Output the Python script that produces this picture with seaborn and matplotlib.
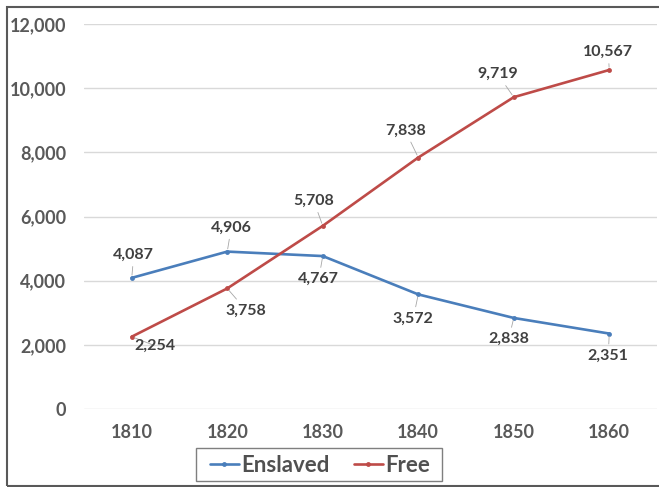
import matplotlib
matplotlib.use("Agg")
import matplotlib.pyplot as plt
from matplotlib.lines import Line2D
import seaborn as sns
import pandas as pd

# Population by decade
years = ["1810", "1820", "1830", "1840", "1850", "1860"]
enslaved = [4087, 4906, 4767, 3572, 2838, 2351]
free = [2254, 3758, 5708, 7838, 9719, 10567]
series_names = ["Enslaved", "Free"]
colors = {"Enslaved": "#4A7EBB", "Free": "#BE4B48"}

# Label offsets in pixels (dx, dy) relative to each point
enslaved_offsets = [(2, 23), (4, 24), (-4, -23), (-5, -24), (-5, -21), (-1, -22)]
free_offsets = [(23, -9), (19, -22), (-9, 25), (-13, 27), (-16, 23), (-1, 18)]

df = pd.DataFrame({
    "Year": years * 2,
    "Population": enslaved + free,
    "Group": [series_names[0]] * len(years) + [series_names[1]] * len(years),
})

sns.set_theme(style="white")
plt.rcParams["font.family"] = ["Lato", "DejaVu Sans"]

W, H = 659, 487
fig = plt.figure(figsize=(W / 100, H / 100), dpi=100)
ax = fig.add_axes([84 / W, 1 - 409 / H, (657 - 84) / W, (409 - 24) / H])

sns.lineplot(data=df, x="Year", y="Population", hue="Group", palette=colors,
             marker="o", markersize=3.5, markeredgewidth=0, linewidth=1.9,
             sort=False, legend=False, ax=ax)

ax.set_xlim(-0.5, len(years) - 0.5)
ax.set_ylim(0, 12000)
ax.set_yticks(range(0, 12001, 2000))
ax.yaxis.set_major_formatter(matplotlib.ticker.FuncFormatter(lambda v, p: f"{int(v):,}"))
ax.grid(axis="y", color="#d9d9d9", linewidth=1)
ax.grid(axis="x", visible=False)
for s in ax.spines.values():
    s.set_visible(False)
ax.set_xlabel("")
ax.set_ylabel("")
ax.tick_params(axis="both", length=0, labelcolor="#595959", labelsize=13)
ax.tick_params(axis="y", pad=13)
ax.tick_params(axis="x", pad=11)
for lbl in ax.get_xticklabels() + ax.get_yticklabels():
    lbl.set_fontweight("bold")

# Data labels with thin leader lines
for values, offsets in ((enslaved, enslaved_offsets), (free, free_offsets)):
    for i, (v, (dx, dy)) in enumerate(zip(values, offsets)):
        ax.annotate(f"{v:,}", xy=(i, v), xytext=(dx, dy), textcoords="offset pixels",
                    ha="center", va="center", fontsize=11.5, fontweight="bold",
                    color="#404040",
                    arrowprops=dict(arrowstyle="-", color="#a6a6a6", lw=0.6,
                                    shrinkA=1, shrinkB=2))

# Legend below the axis with its own box
handles = [Line2D([0], [0], color=colors[n], lw=1.9, marker="o", markersize=3.5,
                  markeredgewidth=0) for n in series_names]
leg = fig.legend(handles, series_names, loc="center", bbox_to_anchor=(320 / W, 1 - 465 / H),
                 ncol=2, frameon=False,
                 prop={"weight": "bold", "size": 16}, handlelength=1.3,
                 handletextpad=0.1, columnspacing=1.1, borderpad=0.2)
for t in leg.get_texts():
    t.set_color("#505050")
fig.patches.append(plt.Rectangle((196 / W, 1 - 481 / H), (442 - 196) / W, 33 / H,
                                 transform=fig.transFigure, fill=False,
                                 edgecolor="#7f7f7f", linewidth=1.0))

# Outer frame
fig.patches.append(plt.Rectangle((7 / W, 1 / H), 660 / W, 479 / H, transform=fig.transFigure,
                                 fill=False, edgecolor="#595959", linewidth=1.5, clip_on=False))

fig.savefig("out.png", dpi=100)
